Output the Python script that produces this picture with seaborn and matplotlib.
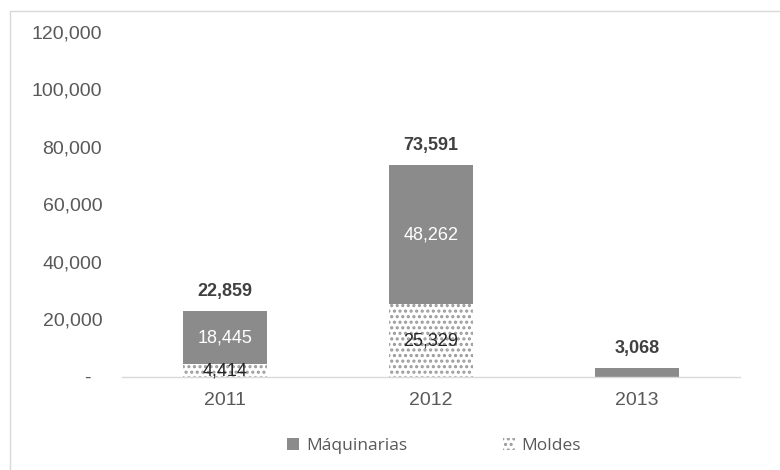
import seaborn as sns
import matplotlib.pyplot as plt
import pandas as pd
from matplotlib.lines import Line2D
from matplotlib.patches import Patch

years = ["2011", "2012", "2013"]
maquinarias = [18445, 48262, 3068]
moldes = [4414, 25329, 0]
yticks = [0, 20000, 40000, 60000, 80000, 100000, 120000]

gray = "#8b8b8b"
dot_gray = "#9a9a9a"

sns.set_style("white")
plt.rcParams['font.family'] = ['Liberation Sans', 'DejaVu Sans']
plt.rcParams['hatch.linewidth'] = 1.5

df = pd.DataFrame({"Year": years, "Maquinarias": maquinarias, "Moldes": moldes})
df["Total"] = df["Maquinarias"] + df["Moldes"]

fig = plt.figure(figsize=(7.8, 4.7), dpi=100)
ax = fig.add_axes([0.156, 0.198, 0.793, 0.734])

# total height in gray, then the moldes part over it with dots
sns.barplot(data=df, x="Year", y="Total", color=gray, width=0.41,
            saturation=1, ax=ax, edgecolor=gray, linewidth=0)
sns.barplot(data=df, x="Year", y="Moldes", color="white", width=0.41,
            saturation=1, ax=ax, edgecolor=dot_gray, linewidth=0, hatch="...")

ax.set_ylim(0, 120000)
ax.set_xlim(-0.5, 2.5)
ax.set_yticks(yticks)
ax.set_yticklabels(["-  "] + [f"{v:,}" for v in yticks[1:]])
ax.set_xlabel("")
ax.set_ylabel("")
ax.tick_params(axis='both', length=0, labelsize=14, labelcolor="#595959")
ax.tick_params(axis='y', pad=14)
ax.tick_params(axis='x', pad=11)
for s in ["top", "right", "left"]:
    ax.spines[s].set_visible(False)
ax.spines["bottom"].set_color("#d9d9d9")
ax.spines["bottom"].set_linewidth(1)

for i in range(len(years)):
    if moldes[i] > 0:
        ax.text(i, moldes[i] / 2, f"{moldes[i]:,}", ha="center", va="center",
                fontsize=13, color="#262626")
    if maquinarias[i] > 10000:
        ax.text(i, moldes[i] + maquinarias[i] / 2, f"{maquinarias[i]:,}",
                ha="center", va="center", fontsize=13, color="white")
    tot = moldes[i] + maquinarias[i]
    ax.annotate(f"{tot:,}", (i, tot), xytext=(0, 8), textcoords="offset points",
                ha="center", va="bottom", fontsize=13, fontweight="bold",
                color="#404040")

handles = [Patch(facecolor=gray, edgecolor=gray, linewidth=0),
           Patch(facecolor="white", edgecolor=dot_gray, linewidth=0, hatch="...")]
ax.legend(handles, ["Máquinarias", "Moldes"], loc="center",
          bbox_to_anchor=(0.505, -0.2), ncol=2, frameon=False,
          handlelength=0.7, handleheight=0.7, handletextpad=0.4,
          columnspacing=5.5, prop={"family": "Open Sans", "size": 12.5},
          labelcolor="#595959")

# chart frame (top and left edges)
fig.add_artist(Line2D([10 / 780, 1], [1 - 11 / 470, 1 - 11 / 470],
                      color="#d9d9d9", lw=1))
fig.add_artist(Line2D([10 / 780, 10 / 780], [0, 1 - 11 / 470],
                      color="#d9d9d9", lw=1))

fig.savefig("out.png", dpi=100)
